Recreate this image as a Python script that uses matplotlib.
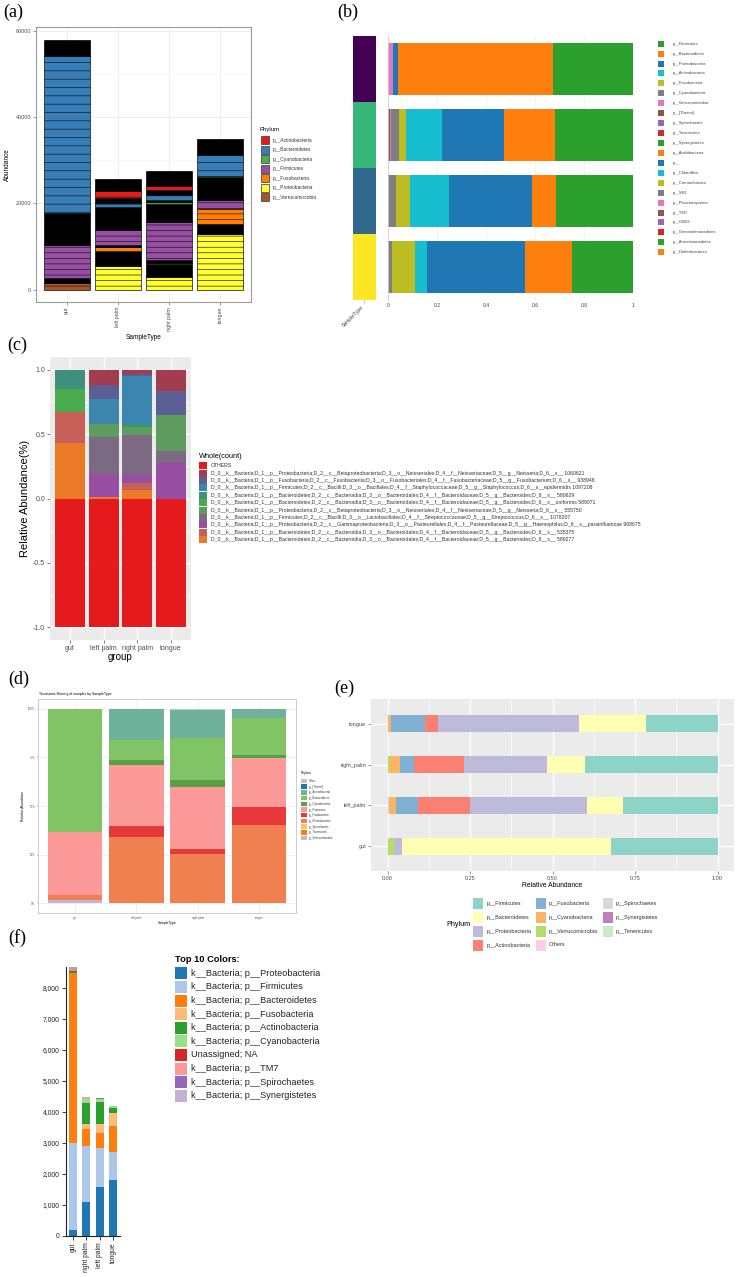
import numpy as np
import matplotlib
matplotlib.use("Agg")
import matplotlib.pyplot as plt
from matplotlib.patches import Rectangle

W, H = 738, 1277
plt.rcParams['font.family'] = ['Liberation Sans', 'DejaVu Sans']
plt.rcParams['hatch.linewidth'] = 0.45

# ---------------- data ----------------
# (a) absolute abundance, stacked OTU blocks from the bottom
MIX = "low-abundance OTUs"
a_samples = ["gut", "left palm", "right palm", "tongue"]
a_phyla = ["p__Actinobacteria", "p__Bacteroidetes", "p__Cyanobacteria", "p__Firmicutes",
           "p__Fusobacteria", "p__Proteobacteria", "p__Verrucomicrobia"]
a_colors = ["#e41a1c", "#377eb8", "#4daf4a", "#984ea3", "#ff7f00", "#ffff33", "#a65628"]
a_gut_taxa = ["p__Verrucomicrobia", MIX, "p__Firmicutes", MIX, "p__Bacteroidetes", MIX]
a_gut_abund = [1400, 1300, 7550, 7550, 36400, 3800]
a_left_taxa = ["p__Proteobacteria", MIX, "p__Fusobacteria", MIX, "p__Firmicutes", MIX,
               "p__Bacteroidetes", MIX, "p__Actinobacteria", MIX]
a_left_abund = [5500, 3400, 1000, 350, 3650, 5200, 900, 1300, 1500, 2900]
a_right_taxa = ["p__Proteobacteria", MIX, "p__Fusobacteria", MIX, "p__Firmicutes", MIX,
                "p__Cyanobacteria", MIX, "p__Bacteroidetes", MIX, "p__Actinobacteria", MIX]
a_right_abund = [2800, 3100, 300, 700, 8700, 4300, 400, 500, 1100, 1200, 1000, 3400]
a_tongue_taxa = ["p__Proteobacteria", MIX, "p__Fusobacteria", "p__Firmicutes", MIX,
                 "p__Cyanobacteria", "p__Bacteroidetes", MIX]
a_tongue_abund = [12800, 2300, 3600, 2100, 5300, 200, 4800, 3800]

# (b) relative abundance per phylum (legend order)
b_samples = ["gut", "right palm", "left palm", "tongue"]
b_phyla = ["p__Firmicutes", "p__Bacteroidetes", "p__Proteobacteria", "p__Actinobacteria",
           "p__Fusobacteria", "p__Cyanobacteria", "p__Verrucomicrobia", "p__[Thermi]",
           "p__Spirochaetes", "p__Tenericutes", "p__Synergistetes", "p__Acidobacteria", "p__",
           "p__Chloroflexi", "p__Crenarchaeota", "p__SR1", "p__Planctomycetes", "p__TM7",
           "p__GN02", "p__Gemmatimonadetes", "p__Armatimonadetes", "p__Deferribacteres"]
b_palette = ["#2ca02c", "#ff7f0e", "#1f77b4", "#17becf", "#bcbd22", "#7f7f7f",
             "#e377c2", "#8c564b", "#9467bd", "#d62728"]
b_gut = [0.327, 0.633, 0.021, 0, 0, 0, 0.019, 0, 0, 0]
b_right_palm = [0.318, 0.210, 0.254, 0.146, 0.027, 0.035, 0.002, 0.005, 0.002, 0.001]
b_left_palm = [0.314, 0.100, 0.338, 0.160, 0.057, 0.027, 0.0, 0.002, 0.002, 0.0]
b_tongue = [0.250, 0.190, 0.402, 0.048, 0.095, 0.015, 0, 0, 0, 0]

# (c) relative abundance of top OTUs
c_groups = ["gut", "left palm", "right palm", "tongue"]
c_taxa = [
    "OTHERS",
    "D_0__k__Bacteria;D_1__p__Proteobacteria;D_2__c__Betaproteobacteria;D_3__o__Neisseriales;D_4__f__Neisseriaceae;D_5__g__Neisseria;D_6__s__ 1060621",
    "D_0__k__Bacteria;D_1__p__Fusobacteria;D_2__c__Fusobacteriia;D_3__o__Fusobacteriales;D_4__f__Fusobacteriaceae;D_5__g__Fusobacterium;D_6__s__ 938948",
    "D_0__k__Bacteria;D_1__p__Firmicutes;D_2__c__Bacilli;D_3__o__Bacillales;D_4__f__Staphylococcaceae;D_5__g__Staphylococcus;D_6__s__epidermidis 1097208",
    "D_0__k__Bacteria;D_1__p__Bacteroidetes;D_2__c__Bacteroidia;D_3__o__Bacteroidales;D_4__f__Bacteroidaceae;D_5__g__Bacteroides;D_6__s__ 580629",
    "D_0__k__Bacteria;D_1__p__Bacteroidetes;D_2__c__Bacteroidia;D_3__o__Bacteroidales;D_4__f__Bacteroidaceae;D_5__g__Bacteroides;D_6__s__uniformis 589071",
    "D_0__k__Bacteria;D_1__p__Proteobacteria;D_2__c__Betaproteobacteria;D_3__o__Neisseriales;D_4__f__Neisseriaceae;D_5__g__Neisseria;D_6__s__ 555750",
    "D_0__k__Bacteria;D_1__p__Firmicutes;D_2__c__Bacilli;D_3__o__Lactobacillales;D_4__f__Streptococcaceae;D_5__g__Streptococcus;D_6__s__ 1078207",
    "D_0__k__Bacteria;D_1__p__Proteobacteria;D_2__c__Gammaproteobacteria;D_3__o__Pasteurellales;D_4__f__Pasteurellaceae;D_5__g__Haemophilus;D_6__s__parainfluenzae 968675",
    "D_0__k__Bacteria;D_1__p__Bacteroidetes;D_2__c__Bacteroidia;D_3__o__Bacteroidales;D_4__f__Bacteroidaceae;D_5__g__Bacteroides;D_6__s__ 535375",
    "D_0__k__Bacteria;D_1__p__Bacteroidetes;D_2__c__Bacteroidia;D_3__o__Bacteroidales;D_4__f__Bacteroidaceae;D_5__g__Bacteroides;D_6__s__ 589277",
]
c_colors = ["#e41a1c", "#a23d50", "#5b5f93", "#3a86ae", "#3f8f7c", "#4aab4c",
            "#5d9b5e", "#7b6a82", "#984ea3", "#c8605a", "#ea7a26"]
c_gut = [-1.0, 0, 0, 0, 0.152, 0.175, 0, 0, 0, 0.245, 0.428]
c_left_palm = [-1.0, 0.113, 0.116, 0.193, 0, 0, 0.098, 0.289, 0.180, 0, 0.010]
c_right_palm = [-1.0, 0.031, 0.013, 0.374, 0.026, 0.018, 0.046, 0.309, 0.059, 0.057, 0.067]
c_tongue = [-1.0, 0.167, 0.183, 0, 0, 0, 0.284, 0.090, 0.276, 0, 0]

# (d) taxonomic binning
d_samples = ["gut", "left palm", "right palm", "tongue"]
d_phyla = ["Other", "p__[Thermi]", "p__Actinobacteria", "p__Bacteroidetes", "p__Cyanobacteria",
           "p__Firmicutes", "p__Fusobacteria", "p__Proteobacteria", "p__Spirochaetes",
           "p__Tenericutes", "p__Verrucomicrobia"]
d_colors = ["#a6cee3", "#1f78b4", "#6fb29b", "#80c466", "#5a9e46", "#fb9a99",
            "#e8393a", "#f0804f", "#fdbf6f", "#ff7f00", "#cab2d6"]
d_gut = [0, 0, 0, 0.636, 0, 0.323, 0, 0.026, 0, 0, 0.015]
d_left_palm = [0.003, 0, 0.158, 0.103, 0.026, 0.314, 0.057, 0.339, 0, 0, 0]
d_right_palm = [0.005, 0, 0.148, 0.214, 0.036, 0.317, 0.026, 0.251, 0, 0, 0.003]
d_tongue = [0, 0, 0.050, 0.189, 0.015, 0.250, 0.096, 0.400, 0, 0, 0]

# (e) relative abundance, horizontal
e_samples = ["gut", "left_palm", "right_palm", "tongue"]
e_phyla = ["p__Firmicutes", "p__Bacteroidetes", "p__Proteobacteria", "p__Actinobacteria",
           "p__Fusobacteria", "p__Cyanobacteria", "p__Verrucomicrobia", "Others",
           "p__Spirochaetes", "p__Synergistetes", "p__Tenericutes"]
e_colors = ["#8dd3c7", "#ffffb3", "#bebada", "#fb8072", "#80b1d3", "#fdb462",
            "#b3de69", "#fccde5", "#d9d9d9", "#bc80bd", "#ccebc5"]
e_gut = [0.324, 0.632, 0.023, 0, 0, 0, 0.021, 0, 0, 0, 0]
e_left_palm = [0.286, 0.110, 0.353, 0.158, 0.066, 0.021, 0, 0, 0.006, 0, 0]
e_right_palm = [0.402, 0.116, 0.250, 0.151, 0.043, 0.030, 0.005, 0, 0.003, 0, 0]
e_tongue = [0.217, 0.202, 0.429, 0.037, 0.105, 0.008, 0, 0, 0.002, 0, 0]

# (f) counts
f_samples = ["gut", "right palm", "left palm", "tongue"]
f_taxa = ["k__Bacteria; p__Proteobacteria", "k__Bacteria; p__Firmicutes",
          "k__Bacteria; p__Bacteroidetes", "k__Bacteria; p__Fusobacteria",
          "k__Bacteria; p__Actinobacteria", "k__Bacteria; p__Cyanobacteria",
          "Unassigned; NA", "k__Bacteria; p__TM7", "k__Bacteria; p__Spirochaetes",
          "k__Bacteria; p__Synergistetes", "k__Bacteria; p__Tenericutes",
          "k__Bacteria; p__Verrucomicrobia"]
f_colors = ["#1f77b4", "#aec7e8", "#ff7f0e", "#ffbb78", "#2ca02c", "#98df8a",
            "#d62728", "#ff9896", "#9467bd", "#c5b0d5", "#8c564b", "#c49c94"]
f_gut = [200, 2790, 5470, 10, 20, 0, 0, 0, 0, 0, 30, 140]
f_right_palm = [1110, 1790, 540, 170, 670, 125, 15, 15, 15, 10, 0, 0]
f_left_palm = [1575, 1265, 490, 280, 700, 95, 10, 10, 10, 5, 0, 0]
f_tongue = [1790, 900, 850, 415, 175, 40, 5, 5, 10, 5, 0, 0]

# ---------------- helpers ----------------
fig = plt.figure(figsize=(W / 100, H / 100), dpi=100)


def rect(x0, y0, x1, y1):
    return [x0 / W, 1 - y1 / H, (x1 - x0) / W, (y1 - y0) / H]


def ftext(x, y, s, **kw):
    return fig.text(x / W, 1 - y / H, s, **kw)


def fkey(x, yc, w, h, color, edge='none', lw=0.4):
    fig.add_artist(Rectangle((x / W, 1 - (yc + h / 2) / H), w / W, h / H,
                             transform=fig.transFigure, facecolor=color,
                             edgecolor=edge, lw=lw))


for lab, x, y in [("(a)", 3, 12), ("(b)", 337, 12), ("(c)", 7, 345),
                  ("(d)", 8, 679), ("(e)", 334, 688), ("(f)", 8, 938)]:
    ftext(x, y, lab, family=['Liberation Serif', 'DejaVu Serif'], fontsize=13,
          va='center', ha='left')

GR = '#4d4d4d'

# ---------------- (a) ----------------
ax = fig.add_axes(rect(36, 27, 251, 302))
a_cmap = dict(zip(a_phyla, a_colors))
for i, (taxa, ab) in enumerate([(a_gut_taxa, a_gut_abund), (a_left_taxa, a_left_abund),
                                (a_right_taxa, a_right_abund), (a_tongue_taxa, a_tongue_abund)]):
    bottom = 0
    for t, v in zip(taxa, ab):
        if t == MIX:
            ax.bar(i + 1, v, 0.9, bottom=bottom, color='black', edgecolor='black', lw=0.5, zorder=2)
        else:
            ax.bar(i + 1, v, 0.9, bottom=bottom, color=a_cmap[t], edgecolor='#111111', lw=0.5,
                   hatch='--' if t == "p__Bacteroidetes" else '---', zorder=2)
        bottom += v
ax.set_xlim(0.4, 4.6)
ax.set_ylim(-2900, 60900)
ax.set_yticks([0, 20000, 40000, 60000])
ax.set_yticks([10000, 30000, 50000], minor=True)
ax.set_xticks([1, 2, 3, 4])
ax.set_xticklabels(a_samples, rotation=90)
ax.grid(True, which='major', color='#ebebeb', lw=0.6, zorder=0)
ax.grid(True, which='minor', axis='y', color='#f4f4f4', lw=0.4, zorder=0)
ax.set_axisbelow(True)
for s in ax.spines.values():
    s.set_color('#9a9a9a'); s.set_lw(0.8)
ax.tick_params(labelsize=3.9, colors=GR, length=2, width=0.4, pad=1.5)
ax.tick_params(which='minor', length=0)
ax.set_ylabel("Abundance", fontsize=4.7, labelpad=3)
ax.set_xlabel("SampleType", fontsize=4.7, labelpad=2)
ftext(260, 130, "Phylum", fontsize=4.3, va='center')
for i, (p, c) in enumerate(zip(a_phyla, a_colors)):
    fkey(261, 140.3 + i * 9.45, 8, 8, c, edge='#333333', lw=0.5)
    ftext(273, 140.3 + i * 9.45, p, fontsize=3.5, va='center', color='#333333')

# ---------------- (b) ----------------
axs = fig.add_axes(rect(352.7, 36, 376, 300))
vir = plt.cm.viridis(np.linspace(0, 1, 4))
vir_map = dict(zip(sorted(b_samples), vir))
for i, s in enumerate(b_samples):
    axs.barh(i, 1, height=1.0, left=0, color=vir_map[s])
axs.set_xlim(0, 1)
axs.set_ylim(3.5, -0.5)
axs.set_yticks([])
axs.set_xticks([0.5])
axs.set_xticklabels(["SampleType"], rotation=45, ha='right', va='top', fontsize=3.6, color='#444444')
axs.tick_params(length=2, width=0.4, color='#888888', pad=1)
for s in axs.spines.values():
    s.set_visible(False)

axb = fig.add_axes(rect(388.3, 36, 632.7, 300))
b_cols = [b_palette[k % 10] for k in range(len(b_phyla))]
for i, vals in enumerate([b_gut, b_right_palm, b_left_palm, b_tongue]):
    v = np.array(vals, dtype=float)
    v = v / v.sum()
    right = 1.0
    for k, val in enumerate(v):
        if val <= 0:
            continue
        axb.barh(i, val, left=right - val, height=0.8, color=b_cols[k], zorder=2)
        right -= val
axb.set_xlim(0, 1)
axb.set_ylim(3.5, -0.5)
axb.set_yticks([])
axb.set_xticks([0, 0.2, 0.4, 0.6, 0.8, 1])
axb.set_xticklabels(["0", "0.2", "0.4", "0.6", "0.8", "1"])
axb.grid(True, axis='x', color='#eeeeee', lw=0.5, zorder=0)
axb.set_axisbelow(True)
for k, s in axb.spines.items():
    s.set_visible(k == 'left')
axb.spines['left'].set_color('#cccccc')
axb.spines['left'].set_lw(0.6)
axb.tick_params(labelsize=3.6, colors='#444444', length=0, pad=2)
for k, p in enumerate(b_phyla):
    yc = 43.7 + k * 9.93
    fkey(658, yc, 6, 6, b_cols[k])
    ftext(673, yc, p, fontsize=3.0, va='center', color='#444444')

# ---------------- (c) ----------------
axc = fig.add_axes(rect(50, 357, 191, 640))
axc.set_facecolor('#ebebeb')
for i, vals in enumerate([c_gut, c_left_palm, c_right_palm, c_tongue]):
    pos = 0.0
    for k in range(len(c_taxa) - 1, 0, -1):
        if vals[k] > 0:
            axc.bar(i + 1, vals[k], 0.9, bottom=pos, color=c_colors[k], zorder=2)
            pos += vals[k]
    axc.bar(i + 1, vals[0], 0.9, bottom=0, color=c_colors[0], zorder=2)
axc.set_xlim(0.4, 4.6)
axc.set_ylim(-1.1, 1.1)
axc.set_yticks([-1, -0.5, 0, 0.5, 1])
axc.set_yticklabels(["-1.0", "-0.5", "0.0", "0.5", "1.0"])
axc.set_yticks([-0.75, -0.25, 0.25, 0.75], minor=True)
axc.set_xticks([1, 2, 3, 4])
axc.set_xticklabels(c_groups)
axc.grid(True, which='major', color='white', lw=0.9, zorder=0)
axc.grid(True, which='minor', axis='y', color='white', lw=0.45, zorder=0)
axc.set_axisbelow(True)
for s in axc.spines.values():
    s.set_visible(False)
axc.tick_params(labelsize=5, colors=GR, length=2, width=0.5, pad=1.5)
axc.tick_params(which='minor', length=0)
axc.set_xlabel("group", fontsize=7, labelpad=0)
axc.set_ylabel("Relative Abundance(%)", fontsize=8, labelpad=2)
ftext(199, 457, "Whole(count)", fontsize=5.3, va='center')
for k, t in enumerate(c_taxa):
    yc = 465.7 + k * 7.4
    fkey(199, yc, 8, 7, c_colors[k])
    ftext(211, yc, t, fontsize=3.7, va='center', color='#333333')

# ---------------- (d) ----------------
axd = fig.add_axes(rect(38, 699, 296, 913))
for i, vals in enumerate([d_gut, d_left_palm, d_right_palm, d_tongue]):
    b = 0.0
    for k in range(len(d_phyla) - 1, -1, -1):
        if vals[k] > 0:
            axd.bar(i + 1, vals[k], 0.89, bottom=b, color=d_colors[k], zorder=2)
            b += vals[k]
axd.set_xlim(0.4, 4.6)
axd.set_ylim(-0.05, 1.05)
axd.set_yticks([0, 0.25, 0.5, 0.75, 1])
axd.set_yticklabels(["0%", "25%", "50%", "75%", "100%"])
axd.set_xticks([1, 2, 3, 4])
axd.set_xticklabels(d_samples)
axd.grid(True, color='#ececec', lw=0.5, zorder=0)
axd.set_axisbelow(True)
for s in axd.spines.values():
    s.set_color('#cccccc'); s.set_lw(0.7)
axd.tick_params(labelsize=2.0, colors='#555555', length=1, width=0.3, pad=1)
axd.set_ylabel("Relative Abundance", fontsize=2.4, labelpad=2)
axd.set_xlabel("SampleType", fontsize=2.4, labelpad=1)
ftext(39, 694, "Taxonomic Binning of samples by SampleType", fontsize=2.5, va='center')
ftext(301, 773, "Phylum", fontsize=2.3, va='center')
for k, p in enumerate(d_phyla):
    yc = 781 + k * 5.7
    fkey(301, yc, 6, 4.5, d_colors[k])
    ftext(309, yc, p, fontsize=2.0, va='center', color='#333333')

# ---------------- (e) ----------------
axe = fig.add_axes(rect(371, 699, 734, 871))
axe.set_facecolor('#ebebeb')
for i, vals in enumerate([e_gut, e_left_palm, e_right_palm, e_tongue]):
    v = np.array(vals, dtype=float)
    v = v / v.sum()
    right = 1.0
    for k, val in enumerate(v):
        if val <= 0:
            continue
        axe.barh(i + 1, val, left=right - val, height=0.42, color=e_colors[k], zorder=2)
        right -= val
axe.set_xlim(-0.05, 1.05)
axe.set_ylim(0.4, 4.6)
axe.set_xticks([0, 0.25, 0.5, 0.75, 1])
axe.set_xticklabels(["0.00", "0.25", "0.50", "0.75", "1.00"])
axe.set_xticks([0.125, 0.375, 0.625, 0.875], minor=True)
axe.set_yticks([1, 2, 3, 4])
axe.set_yticklabels(e_samples)
axe.grid(True, which='major', color='white', lw=0.9, zorder=0)
axe.grid(True, which='minor', axis='x', color='white', lw=0.45, zorder=0)
axe.set_axisbelow(True)
for s in axe.spines.values():
    s.set_visible(False)
axe.tick_params(labelsize=4, colors=GR, length=2, width=0.4, pad=1.5)
axe.tick_params(which='minor', length=0)
axe.set_xlabel("Relative Abundance", fontsize=4.9, labelpad=1)
ftext(446, 924, "Phylum", fontsize=5.2, va='center')
e_key_x = [473, 536, 603]
e_txt_x = [487, 549, 616]
for k, p in enumerate(e_phyla):
    col, row = k // 4, k % 4
    yc = 903 + row * 14
    fkey(e_key_x[col], yc, 10, 11, e_colors[k])
    ftext(e_txt_x[col], yc, p, fontsize=4.0, va='center', color='#333333')

# ---------------- (f) ----------------
axf = fig.add_axes(rect(66, 967, 120, 1236))
f_all = [f_gut, f_right_palm, f_left_palm, f_tongue]
for i, vals in enumerate(f_all):
    b = 0
    for k, val in enumerate(vals):
        if val > 0:
            axf.bar(i, val, 0.58, bottom=b, color=f_colors[k], zorder=2)
            b += val
axf.set_xlim(-0.53, 3.53)
axf.set_ylim(0, max(sum(v) for v in f_all))
axf.set_yticks(range(0, 8001, 1000))
axf.set_yticklabels([f"{t:,}" for t in range(0, 8001, 1000)])
axf.set_xticks(range(4))
axf.set_xticklabels(f_samples, rotation=90)
for k in ['top', 'right']:
    axf.spines[k].set_visible(False)
for k in ['left', 'bottom']:
    axf.spines[k].set_color('#222222'); axf.spines[k].set_lw(0.8)
axf.tick_params(labelsize=4.9, colors='#222222', length=3, width=0.6, pad=1.5)
ftext(175, 960, "Top 10 Colors:", fontsize=6.7, weight='bold', va='center')
for k in range(10):
    yc = 973.3 + k * 13.6
    fkey(175, yc, 12, 12, f_colors[k])
    ftext(191, yc, f_taxa[k], fontsize=6.6, va='center', color='#222222')

fig.savefig("out.png", dpi=100)
